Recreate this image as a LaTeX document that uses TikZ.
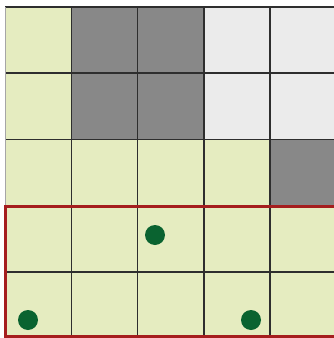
\documentclass[tikz,border=0pt]{standalone}
\definecolor{cellgreen}{HTML}{E5ECC0}
\definecolor{celldark}{HTML}{888888}
\definecolor{celllight}{HTML}{EBEBEB}
\definecolor{framered}{HTML}{A51E1E}
\definecolor{dotgreen}{HTML}{0A6330}
\definecolor{gridline}{HTML}{2E2E2E}
\begin{document}
\begin{tikzpicture}[x=1pt,y=-1pt,
  cell/.style={line width=1.6pt, draw=gridline},
  dot/.style={circle, fill=dotgreen, inner sep=0pt, minimum size=20pt},
  redframe/.style={draw=framered, line width=3pt}]
\useasboundingbox (0,0) rectangle (334,338);
\fill[white] (0,0) rectangle (334,338);
\begin{scope}
\clip (0,0) rectangle (334,338);
\def\cw{66.3}
\def\ch{66.2}
% row/col colours
\foreach \r/\c/\col in {
 0/0/cellgreen,0/1/celldark,0/2/celldark,0/3/celllight,0/4/celllight,
 1/0/cellgreen,1/1/celldark,1/2/celldark,1/3/celllight,1/4/celllight,
 2/0/cellgreen,2/1/cellgreen,2/2/cellgreen,2/3/cellgreen,2/4/celldark,
 3/0/cellgreen,3/1/cellgreen,3/2/cellgreen,3/3/cellgreen,3/4/cellgreen,
 4/0/cellgreen,4/1/cellgreen,4/2/cellgreen,4/3/cellgreen,4/4/cellgreen}
 {\fill[\col] ({5+\c*\cw},{7+\r*\ch}) rectangle ({5+(\c+1)*\cw},{7+(\r+1)*\ch});}
% grid lines
\foreach \c in {1,2,3,4}
  \draw[cell] ({5+\c*\cw},7) -- ({5+\c*\cw},338);
\foreach \r in {0,1,2,3,4}
  \draw[cell] (5,{7+\r*\ch}) -- (340,{7+\r*\ch});
\draw[line width=1pt, draw=gray!70] (5,7) -- (5,206);
\draw[redframe] (5,206) rectangle (345,336);
\end{scope}
\node[dot] (d1) at (155,235) {};
\node[dot] (d2) at (28,320) {};
\node[dot] (d3) at (251,320) {};
\end{tikzpicture}
\end{document}
